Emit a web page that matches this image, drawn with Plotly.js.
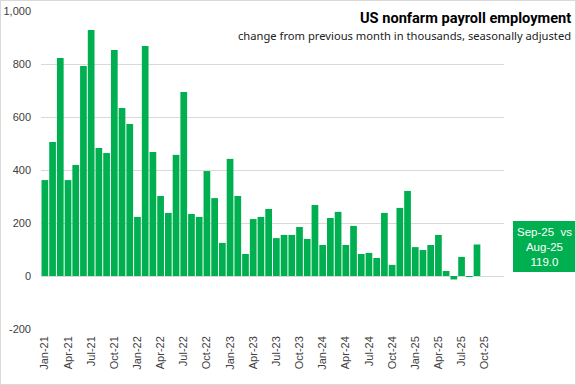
<!DOCTYPE html>
<html>
<head>
<meta charset="utf-8">
<script src="https://cdn.plot.ly/plotly-3.0.1.min.js"></script>
<style>
html,body{margin:0;padding:0;background:#fff;}
#wrap{position:relative;width:576px;height:385px;}
#chart{width:576px;height:385px;}
#border{position:absolute;left:0;top:0;width:576px;height:385px;box-sizing:border-box;border:1px solid #d9d9d9;pointer-events:none;}
</style>
</head>
<body>
<div id="wrap"><div id="chart"></div><div id="border"></div></div>
<script>
const months = [
 "Jan-21","Feb-21","Mar-21","Apr-21","May-21","Jun-21","Jul-21","Aug-21","Sep-21","Oct-21","Nov-21","Dec-21",
 "Jan-22","Feb-22","Mar-22","Apr-22","May-22","Jun-22","Jul-22","Aug-22","Sep-22","Oct-22","Nov-22","Dec-22",
 "Jan-23","Feb-23","Mar-23","Apr-23","May-23","Jun-23","Jul-23","Aug-23","Sep-23","Oct-23","Nov-23","Dec-23",
 "Jan-24","Feb-24","Mar-24","Apr-24","May-24","Jun-24","Jul-24","Aug-24","Sep-24","Oct-24","Nov-24","Dec-24",
 "Jan-25","Feb-25","Mar-25","Apr-25","May-25","Jun-25","Jul-25","Aug-25","Sep-25","Oct-25","Nov-25","Dec-25"
];
const payrollChange = [
 362, 506, 823, 362, 419, 792, 928, 483, 464, 853, 634, 574,
 223, 868, 468, 302, 238, 457, 694, 234, 223, 396, 294, 125,
 442, 302, 83, 215, 223, 253, 143, 155, 155, 185, 140, 268,
 117, 219, 242, 117, 189, 83, 87, 68, 238, 42, 257, 321,
 109, 98, 117, 155, 19, -13, 72, -4, 119, null, null, null
];
const tickLabels = ["Jan-21","Apr-21","Jul-21","Oct-21","Jan-22","Apr-22","Jul-22","Oct-22","Jan-23","Apr-23","Jul-23","Oct-23","Jan-24","Apr-24","Jul-24","Oct-24","Jan-25","Apr-25","Jul-25","Oct-25"];
const yTicks = [-200, 0, 200, 400, 600, 800, 1000];
const calloutLines = ["Sep-25  vs", "Aug-25", "119.0"];

const green = "#00B050";
const trace = {
  type: "bar",
  x: months,
  y: payrollChange,
  marker: {color: green},
  hoverinfo: "x+y"
};
const layout = {
  width: 576, height: 385,
  margin: {l: 41, r: 72, t: 11, b: 56},
  paper_bgcolor: "#ffffff", plot_bgcolor: "#ffffff",
  bargap: 0.13,
  showlegend: false,
  font: {family: "Liberation Sans, Arial, sans-serif", size: 11, color: "#404040"},
  xaxis: {
    type: "category",
    categoryorder: "array", categoryarray: months,
    tickmode: "array", tickvals: tickLabels, ticktext: tickLabels,
    tickangle: -90, ticks: "", showgrid: false, zeroline: false, showline: false,
    ticklabelstandoff: 4,
    tickfont: {size: 11, color: "#404040"},
    range: [-0.5, months.length - 0.5]
  },
  yaxis: {
    range: [-200, 1000],
    tickmode: "array", tickvals: yTicks,
    ticktext: yTicks.map(v => v.toLocaleString("en-US")),
    gridcolor: "#d9d9d9", gridwidth: 1,
    zeroline: false, showline: false, ticks: "",
    ticklabelstandoff: 9,
    tickfont: {size: 11, color: "#404040"}
  },
  annotations: [
    {xref: "paper", yref: "paper", x: (572 - 41) / 463, y: (329 - 18) / 318, xanchor: "right", yanchor: "middle",
     text: "<b>US nonfarm payroll employment</b>", showarrow: false, borderpad: 0,
     font: {family: "Roboto, sans-serif", size: 14.6, color: "#000000"}},
    {xref: "paper", yref: "paper", x: (572 - 41) / 463, y: (329 - 36) / 318, xanchor: "right", yanchor: "middle",
     text: "change from previous month in thousands, seasonally adjusted", showarrow: false, borderpad: 0,
     font: {family: "Noto Sans, sans-serif", size: 11.2, color: "#222222"}},
    {xref: "paper", yref: "paper", x: 1.0 + (544 - 504) / 463, y: (329 - 246.5) / 318,
     xanchor: "center", yanchor: "middle", showarrow: false,
     text: calloutLines.join("<br>"), align: "center",
     font: {family: "Liberation Sans, Arial, sans-serif", size: 11.5, color: "#ffffff"}}
  ],
  shapes: [
    {type: "rect", xref: "paper", yref: "paper",
     x0: (513 - 41) / 463, x1: (575 - 41) / 463,
     y0: (329 - 272) / 318, y1: (329 - 221) / 318,
     fillcolor: green, line: {width: 0}, layer: "below"}
  ]
};
Plotly.newPlot("chart", [trace], layout, {displayModeBar: false, staticPlot: true});
</script>
</body>
</html>
